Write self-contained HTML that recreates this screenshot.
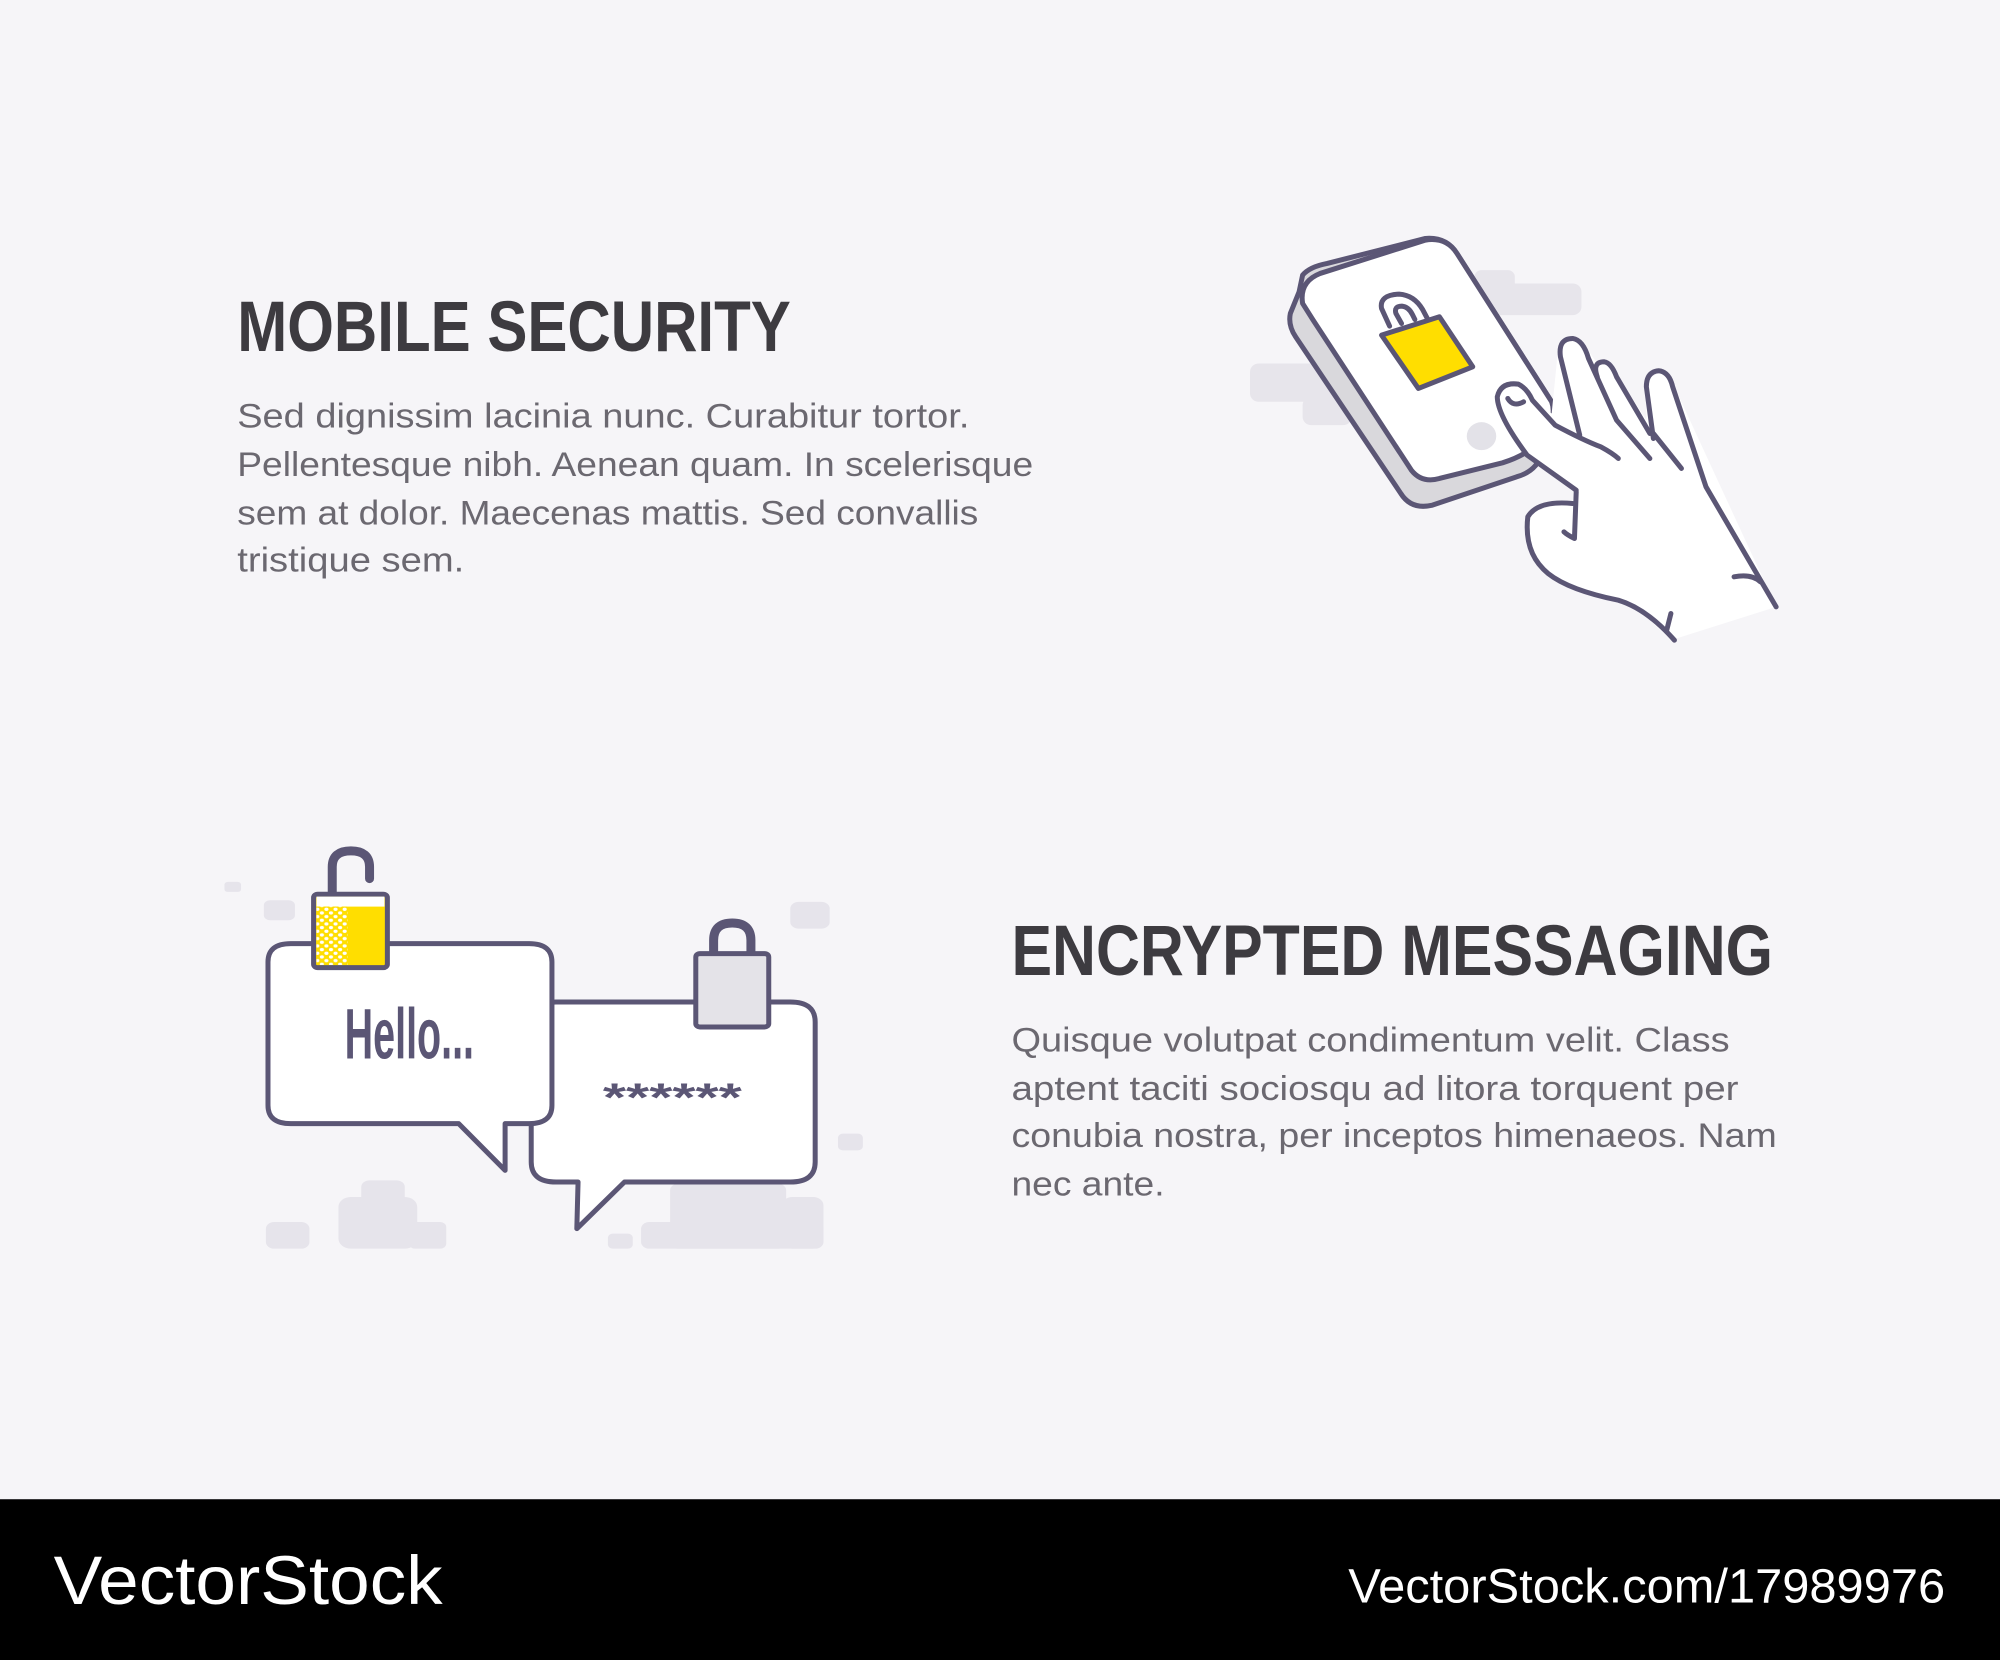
<!DOCTYPE html>
<html><head><meta charset="utf-8"><style>
html,body{margin:0;padding:0;background:#f6f5f8;}
svg{display:block;}
</style></head><body>
<svg width="2000" height="1660" viewBox="0 0 1568 1301" preserveAspectRatio="none" xmlns="http://www.w3.org/2000/svg">
<rect x="0" y="0" width="1568" height="1301" fill="#f6f5f8"/>
<defs>
<pattern id="dots" width="22" height="22" patternUnits="userSpaceOnUse">
<rect width="22" height="22" fill="#ffde00"/>
<circle cx="6" cy="6" r="5" fill="#fff"/><circle cx="17" cy="17" r="5" fill="#fff"/>
</pattern>
</defs>

<g font-family="Liberation Sans, sans-serif">
<text x="186" y="275" font-size="56" font-weight="bold" fill="#3d3b40" textLength="434" lengthAdjust="spacingAndGlyphs">MOBILE SECURITY</text>
<g font-size="27" fill="#6b6870">
<text x="186" y="335" textLength="574" lengthAdjust="spacingAndGlyphs">Sed dignissim lacinia nunc. Curabitur tortor.</text>
<text x="186" y="373" textLength="624" lengthAdjust="spacingAndGlyphs">Pellentesque nibh. Aenean quam. In scelerisque</text>
<text x="186" y="411" textLength="581" lengthAdjust="spacingAndGlyphs">sem at dolor. Maecenas mattis. Sed convallis</text>
<text x="186" y="448" textLength="178" lengthAdjust="spacingAndGlyphs">tristique sem.</text>
</g>
<text x="793" y="764" font-size="56" font-weight="bold" fill="#3d3b40" textLength="597" lengthAdjust="spacingAndGlyphs">ENCRYPTED MESSAGING</text>
<g font-size="27" fill="#6b6870">
<text x="793" y="824" textLength="563" lengthAdjust="spacingAndGlyphs">Quisque volutpat condimentum velit. Class</text>
<text x="793" y="862" textLength="570" lengthAdjust="spacingAndGlyphs">aptent taciti sociosqu ad litora torquent per</text>
<text x="793" y="899" textLength="600" lengthAdjust="spacingAndGlyphs">conubia nostra, per inceptos himenaeos. Nam</text>
<text x="793" y="937" textLength="120" lengthAdjust="spacingAndGlyphs">nec ante.</text>
</g>
</g>

<!-- Phone + hand -->
<g transform="translate(980,172.5) scale(0.275,0.2613)" stroke="#5b5675" stroke-width="5" vector-effect="non-scaling-stroke" stroke-linejoin="round" stroke-linecap="round">
<g fill="#e7e5eb" stroke="none">
<rect x="640" y="150" width="115" height="60" rx="20"/>
<rect x="640" y="190" width="305" height="95" rx="25"/>
<rect x="0" y="430" width="300" height="115" rx="25"/>
<rect x="150" y="530" width="140" height="85" rx="25"/>
</g>
<g vector-effect="non-scaling-stroke">
<path vector-effect="non-scaling-stroke" d="M150,165 Q170,140 220,130 L500,55 Q560,50 590,100 L860,545 Q880,580 860,620 L815,735 Q795,760 760,770 L520,855 Q460,870 430,820 L130,350 Q108,315 115,280 L140,215 Z" fill="#d9d8dc"/>
<path vector-effect="non-scaling-stroke" d="M150,250 Q140,185 200,160 L500,60 Q560,50 590,100 L860,545 Q875,590 840,630 L790,695 Q760,715 720,728 L540,775 Q490,790 460,750 L180,300 Z" fill="#fff"/>
<circle cx="660" cy="648" r="42" fill="#e3e2e8" stroke="none"/>
<path vector-effect="non-scaling-stroke" d="M398,318 L375,265 Q368,225 425,222 Q468,225 492,268 L507,298" fill="none"/>
<path vector-effect="non-scaling-stroke" d="M432,310 L416,280 Q410,258 433,258 Q452,260 463,283 L470,298" fill="none"/>
<path vector-effect="non-scaling-stroke" d="M375,345 L540,290 L635,440 L480,505 Z" fill="#ffde00"/>
<path d="M700,520 L760,490 L860,580 L880,370 L940,355 L990,430 L1020,420 L1130,600 L1130,480 L1180,450 L1210,500 L1500,1160 L1200,1260 L1100,1160 L900,1100 L800,1000 L790,880 L920,840 L930,810 L790,700 Z" fill="#fff" stroke="none"/>
<path vector-effect="non-scaling-stroke" d="M930,810 L790,705 Q705,585 705,530 Q715,485 765,492 Q790,505 805,540 L870,615 Q950,660 1000,680 Q1035,700 1050,715" fill="none"/>
<path vector-effect="non-scaling-stroke" d="M735,535 Q750,562 780,545" fill="none"/>
<path vector-effect="non-scaling-stroke" d="M940,645 L885,410 Q878,355 920,355 Q950,360 965,415 L1045,600 L1140,715" fill="none"/>
<path vector-effect="non-scaling-stroke" d="M990,470 Q975,425 1010,425 Q1030,428 1045,470 L1140,640" fill="none"/>
<path vector-effect="non-scaling-stroke" d="M1150,655 L1130,500 Q1130,455 1165,452 Q1195,455 1205,500 L1300,800 L1500,1160" fill="none"/>
<path vector-effect="non-scaling-stroke" d="M1150,640 L1230,745" fill="none"/>
<path vector-effect="non-scaling-stroke" d="M930,815 L925,955 Q905,945 895,935" fill="none"/>
<path vector-effect="non-scaling-stroke" d="M920,850 Q820,840 792,890 Q780,1000 850,1060 Q910,1110 1050,1140 Q1130,1165 1210,1260" fill="none"/>
<path vector-effect="non-scaling-stroke" d="M1200,1180 L1188,1230" fill="none"/>
<path vector-effect="non-scaling-stroke" d="M1380,1070 Q1430,1060 1455,1085" fill="none"/>
</g>
</g>

<!-- Chat bubbles -->
<g transform="translate(164.6,650.7) scale(0.325,0.2613)" stroke="#5b5675" stroke-width="5" stroke-linejoin="round">
<g fill="#e6e4eb" stroke="none">
<rect x="35" y="155" width="40" height="30" rx="8"/>
<rect x="130" y="210" width="75" height="60" rx="15"/>
<rect x="1400" y="215" width="95" height="80" rx="20"/>
<rect x="1515" y="910" width="60" height="50" rx="12"/>
<rect x="135" y="1175" width="105" height="80" rx="20"/>
<rect x="365" y="1050" width="105" height="80" rx="20"/>
<rect x="310" y="1100" width="190" height="155" rx="30"/>
<rect x="480" y="1175" width="90" height="80" rx="15"/>
<rect x="960" y="1210" width="60" height="45" rx="12"/>
<rect x="1110" y="1060" width="280" height="195" rx="20"/>
<rect x="1040" y="1175" width="440" height="80" rx="20"/>
<rect x="1380" y="1100" width="100" height="155" rx="25"/>
</g>
<path vector-effect="non-scaling-stroke" d="M835,515 L1400,515 Q1460,515 1460,575 L1460,995 Q1460,1055 1400,1055 L1000,1055 L885,1195 L888,1055 L835,1055 Q775,1055 775,995 L775,575 Q775,515 835,515 Z" fill="#fff"/>
<path vector-effect="non-scaling-stroke" d="M195,340 L770,340 Q825,340 825,395 L825,825 Q825,880 770,880 L712,880 L712,1020 L600,880 L195,880 Q140,880 140,825 L140,395 Q140,340 195,340 Z" fill="#fff"/>
<text x="325" y="685" font-family="Liberation Sans Narrow, Liberation Sans, sans-serif" font-weight="bold" font-size="215" fill="#5b5675" stroke="none" textLength="312" lengthAdjust="spacingAndGlyphs">Hello...</text>
<text x="948" y="842" font-family="Liberation Sans, sans-serif" font-weight="bold" font-size="120" fill="#5b5675" stroke="none" textLength="335" lengthAdjust="spacingAndGlyphs">******</text>
<path vector-effect="non-scaling-stroke" d="M295,192 L295,110 Q295,62 340,62 Q385,62 385,110 L385,145" fill="none" stroke-width="9" stroke-linecap="round"/>
<rect vector-effect="non-scaling-stroke" x="250" y="192" width="178" height="220" rx="10" fill="#ffde00"/>
<rect x="257" y="199" width="164" height="30" fill="#fff" stroke="none"/>
<rect x="257" y="229" width="75" height="175" fill="url(#dots)" stroke="none"/>
<path vector-effect="non-scaling-stroke" d="M1215,372 L1215,330 Q1215,278 1260,278 Q1305,278 1305,330 L1305,372" fill="none" stroke-width="9"/>
<rect vector-effect="non-scaling-stroke" x="1172" y="370" width="176" height="220" rx="10" fill="#e4e3e8"/>
</g>

<rect x="0" y="1175" width="1568" height="126" fill="#000"/>
<text x="42" y="1257" font-family="Liberation Sans, sans-serif" font-size="54" fill="#fff" textLength="305" lengthAdjust="spacingAndGlyphs">VectorStock</text>
<text x="1057" y="1256" font-family="Liberation Sans, sans-serif" font-size="38" fill="#fff" textLength="468" lengthAdjust="spacingAndGlyphs">VectorStock.com/17989976</text>
</svg>
</body></html>
